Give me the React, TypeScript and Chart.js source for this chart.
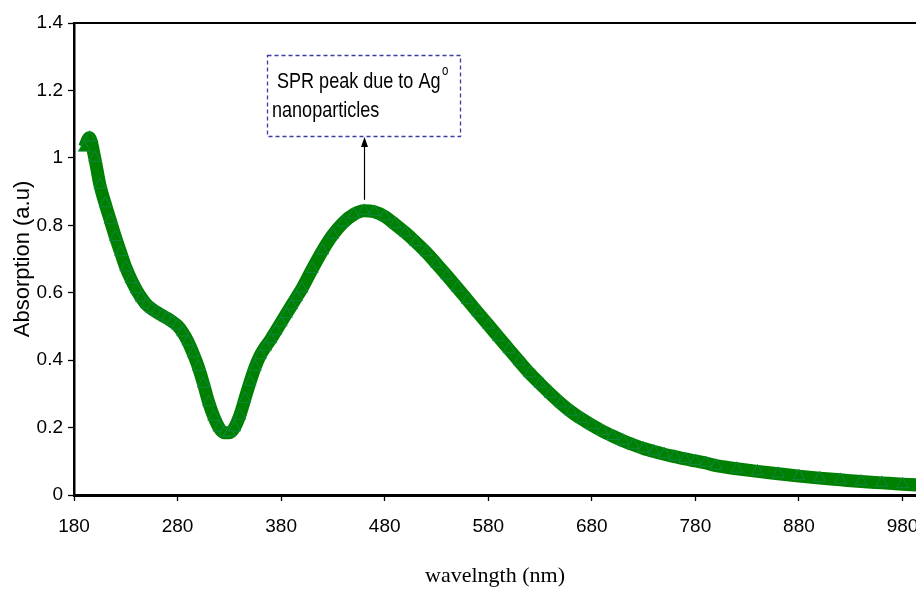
import React, { useEffect, useRef } from "react";
import { Chart, registerables } from "chart.js";

Chart.register(...registerables);

const wavelengths = [190,195,200,205,210,215,220,225,230,235,240,245,250,255,260,265,270,275,280,285,290,295,300,305,310,315,320,325,330,335,340,345,350,355,360,365,370,375,380,385,390,395,400,410,420,430,440,450,460,470,480,490,500,510,520,530,540,550,560,570,580,590,600,610,620,630,640,650,660,670,680,690,700,710,720,730,740,750,760,770,780,790,800,820,840,860,880,900,920,940,960,980,1000];
const absorbance = [1.03,1.06,1.0,0.92,0.865,0.815,0.765,0.72,0.675,0.64,0.61,0.585,0.565,0.552,0.542,0.533,0.524,0.514,0.502,0.482,0.455,0.42,0.38,0.33,0.275,0.232,0.2,0.185,0.185,0.2,0.235,0.285,0.335,0.38,0.415,0.44,0.462,0.487,0.512,0.537,0.562,0.587,0.612,0.67,0.725,0.772,0.808,0.832,0.843,0.84,0.826,0.803,0.778,0.75,0.72,0.686,0.651,0.615,0.578,0.541,0.505,0.468,0.432,0.396,0.361,0.33,0.3,0.272,0.247,0.226,0.207,0.19,0.175,0.161,0.149,0.138,0.129,0.121,0.114,0.107,0.101,0.095,0.087,0.078,0.07,0.063,0.056,0.05,0.045,0.04,0.036,0.032,0.029];
const xTicks = [180,280,380,480,580,680,780,880,980];
const yTicks = [0,0.2,0.4,0.6,0.8,1,1.2,1.4];
const xTitle = "wavelngth (nm)";
const yTitle = "Absorption (a.u)";
const noteLine1 = "SPR peak due to Ag";
const noteSup = "o";
const noteLine2 = "nanoparticles";
const sprSearchFrom = 350;

const SANS = '"Liberation Sans", Arial, sans-serif';

const annotationPlugin = {
  id: "sprNote",
  afterDatasetsDraw(chart: any) {
    const { ctx, chartArea, scales } = chart;
    ctx.save();
    // top frame line
    ctx.strokeStyle = "#000";
    ctx.lineWidth = 2;
    ctx.beginPath();
    ctx.moveTo(chartArea.left - 1, chartArea.top);
    ctx.lineTo(chartArea.right, chartArea.top);
    ctx.stroke();

    // box
    const bx = 267, by = 55, bw = 193, bh = 81;
    ctx.setLineDash([4, 3]);
    ctx.strokeStyle = "#3b3ba3";
    ctx.lineWidth = 1.3;
    ctx.strokeRect(bx + 0.5, by + 0.5, bw, bh);
    ctx.setLineDash([]);

    ctx.fillStyle = "#000";
    ctx.textBaseline = "alphabetic";
    ctx.textAlign = "left";
    const sx = 0.82;
    ctx.save();
    ctx.translate(277, 88);
    ctx.scale(sx, 1);
    ctx.font = `22px ${SANS}`;
    ctx.fillText(noteLine1, 0, 0);
    const w1 = ctx.measureText(noteLine1).width;
    ctx.font = `14px ${SANS}`;
    ctx.fillText(noteSup, w1 + 2, -13);
    ctx.restore();
    ctx.save();
    ctx.translate(272, 117);
    ctx.scale(sx, 1);
    ctx.font = `22px ${SANS}`;
    ctx.fillText(noteLine2, 0, 0);
    ctx.restore();

    // arrow to SPR peak
    let pi = -1;
    for (let i = 0; i < absorbance.length; i++) {
      if (wavelengths[i] < sprSearchFrom) continue;
      if (pi < 0 || absorbance[i] > absorbance[pi]) pi = i;
    }
    const px = Math.round(scales.x.getPixelForValue(wavelengths[pi])) + 0.5;
    const py = scales.y.getPixelForValue(absorbance[pi]) - 11;
    const ty = by + bh + 1;
    ctx.strokeStyle = "#000";
    ctx.lineWidth = 1.2;
    ctx.beginPath();
    ctx.moveTo(px, py);
    ctx.lineTo(px, ty + 6);
    ctx.stroke();
    ctx.beginPath();
    ctx.moveTo(px, ty);
    ctx.lineTo(px - 3.5, ty + 10);
    ctx.lineTo(px + 3.5, ty + 10);
    ctx.closePath();
    ctx.fill();
    ctx.restore();
  },
};

export default function App() {
  const ref = useRef<HTMLCanvasElement | null>(null);
  useEffect(() => {
    document.body.style.margin = "0";
    const canvas = ref.current!;
    const chart = new Chart(canvas, {
      type: "line",
      data: {
        datasets: [
          {
            data: wavelengths.map((w, i) => ({ x: w, y: absorbance[i] })),
            borderColor: "#008000",
            borderWidth: 13,
            cubicInterpolationMode: "monotone",
            pointStyle: "triangle",
            pointRadius: 7,
            pointBackgroundColor: "#008000",
            pointBorderColor: "#17895c",
            pointBorderWidth: 0.7,
            fill: false,
          },
        ],
      },
      options: {
        responsive: false,
        animation: false,
        events: [],
        layout: { autoPadding: false, padding: { top: 23, right: 0, bottom: 0, left: 0 } },
        plugins: { legend: { display: false }, tooltip: { enabled: false } },
        scales: {
          x: {
            type: "linear",
            min: 180,
            max: 993,
            afterBuildTicks: (s: any) => {
              s.ticks = xTicks.map((v) => ({ value: v }));
            },
            afterFit: (s: any) => {
              s.height = 94;
              s.paddingRight = 0;
              s.paddingLeft = 0;
            },
            grid: {
              display: true,
              drawOnChartArea: false,
              drawTicks: true,
              tickLength: 6,
              tickColor: "#000",
              tickWidth: 1.3,
            },
            border: { display: true, color: "#000", width: 3 },
            ticks: {
              color: "#000",
              font: { family: SANS, size: 19 },
              padding: 14,
              maxRotation: 0,
              autoSkip: false,
              callback: (v: any) => String(v),
            },
            title: {
              display: true,
              text: xTitle,
              color: "#000",
              font: { family: '"Liberation Serif", "Times New Roman", serif', size: 22 },
              padding: { top: 0, bottom: 0 },
            },
          },
          y: {
            type: "linear",
            min: 0,
            max: 1.4,
            afterBuildTicks: (s: any) => {
              s.ticks = yTicks.map((v) => ({ value: v }));
            },
            afterFit: (s: any) => {
              s.width = 74;
            },
            grid: {
              display: true,
              drawOnChartArea: false,
              drawTicks: true,
              tickLength: 6,
              tickColor: "#000",
              tickWidth: 1.3,
            },
            border: { display: true, color: "#000", width: 2.5 },
            ticks: {
              color: "#000",
              font: { family: SANS, size: 19 },
              padding: 5,
              autoSkip: false,
              callback: (v: any) => String(v),
            },
            title: {
              display: true,
              text: yTitle,
              color: "#000",
              font: { family: SANS, size: 22 },
              padding: { top: 10, bottom: 0 },
            },
          },
        },
      },
      plugins: [annotationPlugin],
    });
    return () => chart.destroy();
  }, []);
  return (
    <div style={{ width: 916, height: 589 }}>
      <canvas ref={ref} width={916} height={589} style={{ display: "block" }} />
    </div>
  );
}
